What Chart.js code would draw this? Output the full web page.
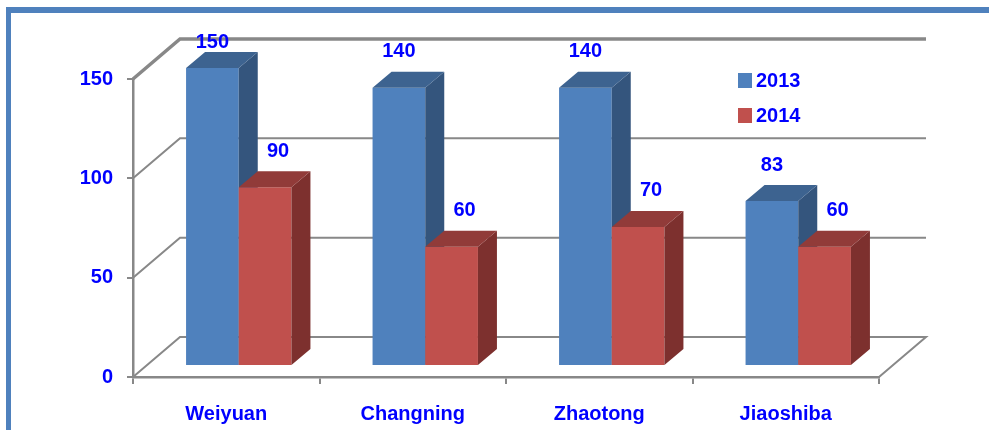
<!DOCTYPE html>
<html>
<head>
<meta charset="utf-8">
<script src="https://cdn.jsdelivr.net/npm/chart.js@4.4.0/dist/chart.umd.min.js"></script>
<style>
  body { margin: 0; background: #fff; }
  #wrap { width: 989px; height: 430px; position: relative; }
</style>
</head>
<body>
<div id="wrap"><canvas id="barras"></canvas></div>
<script>
// dados
const categorias = ["Weiyuan", "Changning", "Zhaotong", "Jiaoshiba"];
const anos = ["2013", "2014"];
const valores2013 = [150, 140, 140, 83];
const valores2014 = [90, 60, 70, 60];
const ticksY = [0, 50, 100, 150];

// cores: frente, lado, topo
const coresAzul = ["#4F81BD", "#34557D", "#3D6390"];
const coresVermelho = ["#C0504D", "#7D302E", "#913B39"];
const corTexto = "#0000FF";
const corGrade = "#888888";
const fonteNum = "bold 20px 'Liberation Sans'";

// deslocamento 3D
const PAREDE_DX = 47, PAREDE_DY = -40;
const BARRA_DX = 12.5, BARRA_DY = -11;
const FUNDO_DX = 19, FUNDO_DY = -16;

const tresD = {
  id: "tresD",
  beforeDraw(chart) {
    const ctx = chart.ctx;
    ctx.save();
    ctx.fillStyle = "#4F81BD";
    ctx.fillRect(6, 7, 983, 6);
    ctx.fillRect(6, 7, 5, 423);
    ctx.restore();
  },
  beforeDatasetsDraw(chart) {
    const ctx = chart.ctx;
    const area = chart.chartArea;
    const y = chart.scales.y;
    ctx.save();
    ctx.strokeStyle = corGrade;
    ticksY.forEach((v) => {
      const py = y.getPixelForValue(v);
      ctx.lineWidth = v === 150 ? 3.5 : 2;
      ctx.beginPath();
      ctx.moveTo(area.left, py);
      ctx.lineTo(area.left + PAREDE_DX, py + PAREDE_DY);
      ctx.lineTo(area.right + PAREDE_DX, py + PAREDE_DY);
      if (v === 0) ctx.lineTo(area.right, py);
      ctx.stroke();
    });
    ctx.restore();
    // o chart.js desenha as frentes aqui; redesenho tudo depois na ordem certa
    ctx.save();
    ctx.globalAlpha = 0;
  },
  afterDatasetsDraw(chart) {
    const ctx = chart.ctx;
    ctx.restore();
    ctx.save();
    ctx.translate(BARRA_DX, BARRA_DY);
    chart.data.datasets.forEach((ds, i) => {
      const cores = i === 0 ? coresAzul : coresVermelho;
      chart.getDatasetMeta(i).data.forEach((bar) => {
        bar.draw(ctx);
        const p = bar.getProps(["x", "y", "base", "width"], true);
        const l = p.x - p.width / 2, r = p.x + p.width / 2;
        ctx.fillStyle = cores[1];
        ctx.beginPath();
        ctx.moveTo(r, p.y);
        ctx.lineTo(r + FUNDO_DX, p.y + FUNDO_DY);
        ctx.lineTo(r + FUNDO_DX, p.base + FUNDO_DY);
        ctx.lineTo(r, p.base);
        ctx.closePath();
        ctx.fill();
        ctx.fillStyle = cores[2];
        ctx.beginPath();
        ctx.moveTo(l, p.y);
        ctx.lineTo(l + FUNDO_DX, p.y + FUNDO_DY);
        ctx.lineTo(r + FUNDO_DX, p.y + FUNDO_DY);
        ctx.lineTo(r, p.y);
        ctx.closePath();
        ctx.fill();
      });
    });

    ctx.font = fonteNum;
    ctx.fillStyle = corTexto;
    ctx.textAlign = "center";
    ctx.textBaseline = "middle";
    chart.data.datasets.forEach((ds, i) => {
      chart.getDatasetMeta(i).data.forEach((bar, j) => {
        const px = bar.x + (i === 1 ? 13 : 0);
        const py = Math.max(bar.y - 36, 53);
        ctx.fillText(String(ds.data[j]), px, py);
      });
    });
    ctx.restore();

    // legenda
    ctx.save();
    ctx.font = fonteNum;
    ctx.textBaseline = "middle";
    chart.data.datasets.forEach((ds, i) => {
      const ly = 80 + i * 35;
      ctx.fillStyle = ds.backgroundColor;
      ctx.fillRect(738, ly - 7, 14, 15);
      ctx.fillStyle = corTexto;
      ctx.fillText(ds.label, 756, ly + 1);
    });
    ctx.restore();
  },
};

const grafico = new Chart(document.querySelector("#barras"), {
  type: "bar",
  data: {
    labels: categorias,
    datasets: [
      {
        label: anos[0],
        data: valores2013,
        backgroundColor: coresAzul[0],
        categoryPercentage: 0.565,
        barPercentage: 1,
      },
      {
        label: anos[1],
        data: valores2014,
        backgroundColor: coresVermelho[0],
        categoryPercentage: 0.565,
        barPercentage: 1,
      },
    ],
  },
  options: {
    responsive: true,
    maintainAspectRatio: false,
    animation: false,
    layout: { padding: { left: 0, right: 110, top: 79, bottom: 0 } },
    plugins: {
      legend: { display: false },
      tooltip: { enabled: false },
    },
    scales: {
      x: {
        grid: {
          drawOnChartArea: false,
          tickLength: 7,
          color: corGrade,
          lineWidth: 2,
        },
        border: { color: corGrade, width: 2.5 },
        ticks: {
          color: corTexto,
          font: { family: "Liberation Sans", size: 20, weight: "bold" },
          padding: 18,
        },
        afterFit(scale) {
          scale.height = 53;
        },
      },
      y: {
        min: 0,
        max: 150,
        afterBuildTicks(scale) {
          scale.ticks = ticksY.map((v) => ({ value: v }));
        },
        grid: {
          drawOnChartArea: false,
          tickLength: 6,
          color: corGrade,
          lineWidth: 2,
        },
        border: { color: corGrade, width: 2.5 },
        ticks: {
          color: corTexto,
          font: { family: "Liberation Sans", size: 20, weight: "bold" },
          padding: 14,
        },
        afterFit(scale) {
          scale.width = 133;
        },
      },
    },
  },
  plugins: [tresD],
});
</script>
</body>
</html>
